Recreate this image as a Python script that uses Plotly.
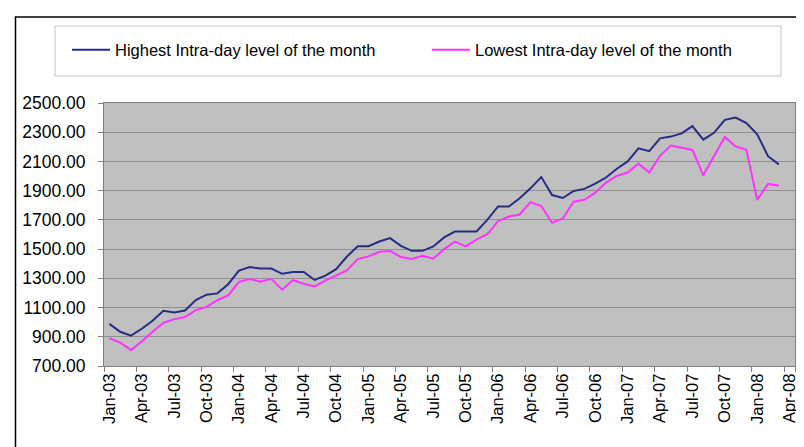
import pandas as pd
import plotly.graph_objects as go

# Categories: monthly, Jan-03 .. Apr-08 (Apr-08 has no data)
months = list(pd.date_range("2003-01-01", periods=64, freq="MS").strftime("%b-%y"))
tick_labels = months[::3]

highest = [988, 934, 908, 955, 1010, 1078, 1066, 1080, 1151, 1188, 1197, 1260,
           1353, 1377, 1367, 1367, 1331, 1343, 1343, 1289, 1318, 1363, 1449, 1520,
           1520, 1552, 1575, 1522, 1488, 1488, 1518, 1580, 1620, 1621, 1621, 1700,
           1792, 1792, 1848, 1916, 1993, 1870, 1850, 1898, 1912, 1948, 1990, 2050,
           2100, 2190, 2170, 2258, 2270, 2292, 2342, 2249, 2296, 2385, 2400, 2363,
           2285, 2136, 2080]
lowest = [890, 860, 810, 868, 935, 995, 1020, 1035, 1082, 1105, 1150, 1183,
          1276, 1296, 1277, 1297, 1222, 1287, 1263, 1245, 1285, 1320, 1355, 1432,
          1450, 1482, 1487, 1446, 1432, 1455, 1434, 1500, 1551, 1519, 1565, 1602,
          1691, 1723, 1737, 1822, 1795, 1680, 1710, 1824, 1838, 1886, 1955, 2001,
          2024, 2085, 2024, 2138, 2209, 2194, 2179, 2005, 2135, 2268, 2203, 2180,
          1836, 1946, 1935]

FONT = "Liberation Sans, Arial, sans-serif"

fig = go.Figure()
fig.add_trace(go.Scatter(x=months[:len(highest)], y=highest, mode="lines",
                         name="Highest Intra-day level of the month",
                         line=dict(color="#262C86", width=2)))
fig.add_trace(go.Scatter(x=months[:len(lowest)], y=lowest, mode="lines",
                         name="Lowest Intra-day level of the month",
                         line=dict(color="#FF33FF", width=2)))

W, H = 804, 447
ml, mr, mt, mb = 96, 17, 95, 89
pw, ph = W - ml - mr, H - mt - mb

def px(xp):
    return (xp - ml) / pw

def py(yp):
    return (H - mb - yp) / ph

fig.update_layout(
    width=W, height=H,
    margin=dict(l=ml, r=mr, t=mt, b=mb),
    paper_bgcolor="white",
    plot_bgcolor="#C0C0C0",
    font=dict(family=FONT, size=16, color="black"),
    showlegend=True,
    legend=dict(orientation="h", x=px(59), y=py(42), xanchor="left", yanchor="middle",
                font=dict(size=16.5), bgcolor="rgba(0,0,0,0)", borderwidth=0,
                entrywidth=307, entrywidthmode="pixels", itemwidth=38),
    xaxis=dict(type="category", categoryorder="array", categoryarray=months,
               range=[-0.5, len(months) - 0.5],
               tickmode="array", tickvals=tick_labels, ticktext=tick_labels,
               tickangle=-90, tickson="boundaries", ticks="outside", ticklen=5,
               tickcolor="#808080", showgrid=False, showline=True,
               linecolor="#808080", linewidth=1, mirror=True,
               tickfont=dict(size=16.5)),
    yaxis=dict(range=[700, 2500], dtick=200, tick0=700, tickformat=".2f",
               ticks="outside", ticklen=5, tickcolor="#808080",
               ticklabelstandoff=9,
               showgrid=True, gridcolor="#8F8F8F", gridwidth=1,
               showline=True, linecolor="#808080", linewidth=1, mirror=True,
               zeroline=False, tickfont=dict(size=17.5)),
    shapes=[
        # legend frame
        dict(type="rect", xref="paper", yref="paper",
             x0=px(47), x1=px(773), y0=py(68), y1=py(18),
             line=dict(color="#C4C4C4", width=1), fillcolor="rgba(0,0,0,0)", layer="below"),
        # outer chart border (cropped at right/bottom)
        dict(type="path", xref="paper", yref="paper",
             path=f"M {px(7.5)},{py(460)} L {px(7.5)},{py(9)} L {px(815)},{py(9)}",
             line=dict(color="black", width=1.5)),
    ],
)

fig.write_html("out.html")
